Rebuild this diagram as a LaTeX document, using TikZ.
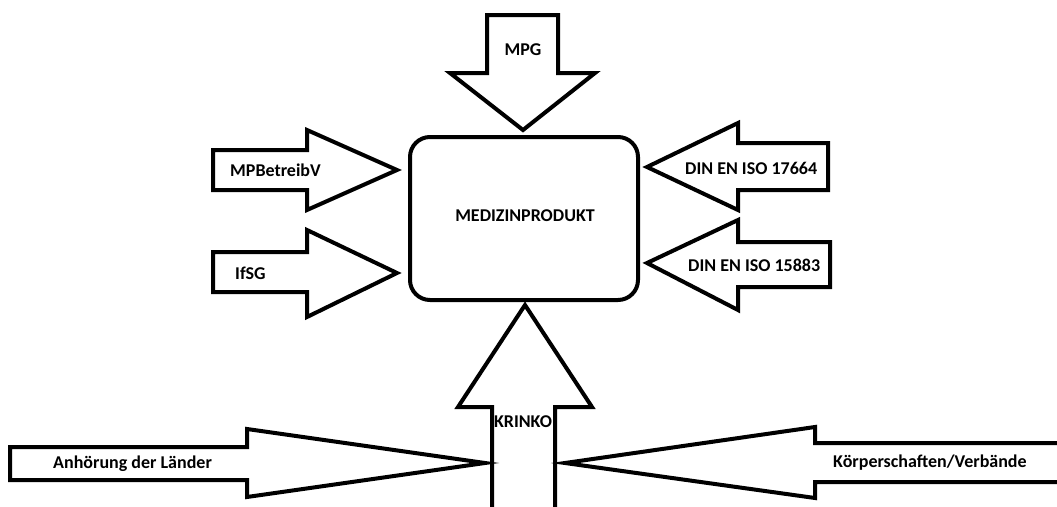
\documentclass[tikz,border=0pt]{standalone}
\usepackage{fontspec}
\setmainfont{Carlito}
\begin{document}
\begin{tikzpicture}[x=1pt,y=-1pt,
  blk/.style={draw=black,line width=4pt,line join=miter,fill=white},
  lbl/.style={font=\bfseries\fontsize{18}{21}\selectfont,inner sep=0pt,text=black},
  mainbox/.style={draw=black,line width=4pt,rounded corners=20pt,minimum width=228pt,minimum height=163pt,inner sep=0pt}]
\useasboundingbox (0,0) rectangle (1057,506);
% central box
\node[mainbox] (box) at (524,218.5) {};
\node[lbl] (boxlbl) at (525,216) {MEDIZINPRODUKT};
% MPG (top, pointing down)
\draw[blk] (487,15) -- (558,15) -- (558,73) -- (595,73) -- (523,130) -- (450,73) -- (487,73) -- cycle;
\node[lbl] (mpg) at (523,50) {MPG};
% MPBetreibV
\draw[blk] (213,150) -- (307,150) -- (307,130) -- (397,170) -- (307,210) -- (307,190) -- (213,190) -- cycle;
\node[lbl,anchor=west] (mpb) at (230,170) {MPBetreibV};
% IfSG
\draw[blk] (213,252) -- (307,252) -- (307,230) -- (397,273) -- (307,317) -- (307,292) -- (213,292) -- cycle;
\node[lbl,anchor=west] (ifsg) at (235,273) {IfSG};
% DIN EN ISO 17664
\draw[blk] (828,143) -- (738,143) -- (738,123) -- (647,167) -- (738,210) -- (738,190) -- (828,190) -- cycle;
\node[lbl,anchor=west] (din1) at (685,168) {DIN EN ISO 17664};
% DIN EN ISO 15883
\draw[blk] (830,242) -- (738,242) -- (738,220) -- (647,263) -- (738,310) -- (738,287) -- (830,287) -- cycle;
\node[lbl,anchor=west] (din2) at (688,265) {DIN EN ISO 15883};
% KRINKO (bottom, pointing up, shaft open at page edge)
\draw[blk] (492,512) -- (492,407) -- (458,407) -- (525,305) -- (592,407) -- (555,407) -- (555,512);
\node[lbl] (krinko) at (523,422) {KRINKO};
% Anhoerung der Laender
\draw[blk] (10,447) -- (247,447) -- (247,429) -- (485,463) -- (247,497) -- (247,480) -- (10,480) -- cycle;
\node[lbl,anchor=west] (anh) at (53,464) {Anhörung der Länder};
% Koerperschaften/Verbaende (shaft open at page edge)
\draw[blk] (1064,443) -- (815,443) -- (815,427) -- (565,463) -- (815,498) -- (815,482) -- (1064,482);
\node[lbl,anchor=west] (koer) at (833,463) {Körperschaften/Verbände};
\end{tikzpicture}
\end{document}
